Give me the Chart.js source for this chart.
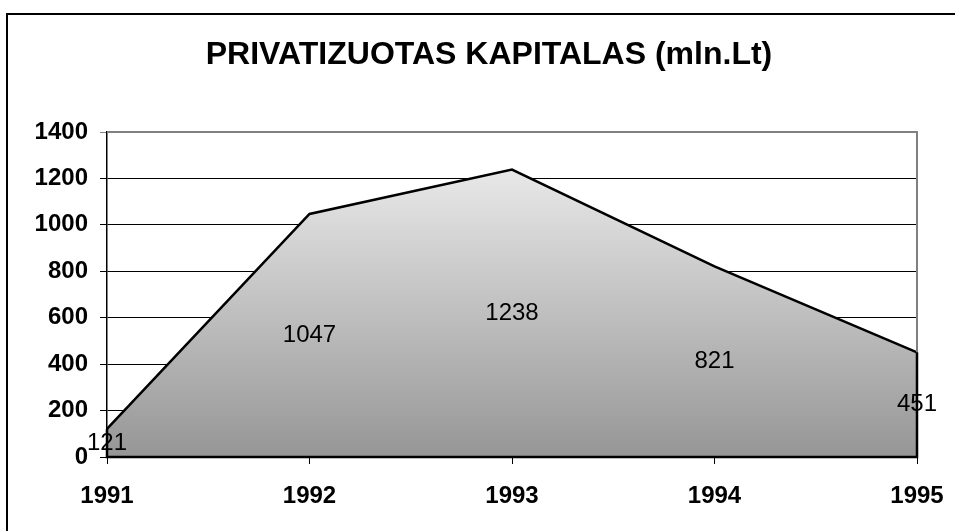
<!DOCTYPE html>
<html>
<head>
<meta charset="utf-8">
<script src="https://cdn.jsdelivr.net/npm/chart.js@4.4.1/dist/chart.umd.min.js"></script>
<style>
  html, body { margin: 0; padding: 0; background: #fff; }
  #wrap { width: 955px; height: 531px; position: relative; }
</style>
</head>
<body>
<div id="wrap"><canvas id="chart"></canvas></div>
<script>
// Données
const years = ['1991', '1992', '1993', '1994', '1995'];
const capital = [121, 1047, 1238, 821, 451];
const yTicks = [0, 200, 400, 600, 800, 1000, 1200, 1400];
const chartTitle = 'PRIVATIZUOTAS KAPITALAS (mln.Lt)';

const FONT = 'Arial, "Liberation Sans", sans-serif';

// Cadre extérieur, titre, bordure droite du graphique
const framePlugin = {
    id: 'frame',
    beforeDraw(chart) {
        const ctx = chart.ctx;
        ctx.save();
        ctx.strokeStyle = '#000';
        ctx.lineWidth = 2;
        ctx.strokeRect(7, 14, 960, 540);
        ctx.fillStyle = '#000';
        ctx.font = 'bold 32px ' + FONT;
        ctx.textAlign = 'center';
        ctx.textBaseline = 'middle';
        ctx.fillText(chartTitle, 489, 55);
        ctx.restore();
    },
    afterDatasetsDraw(chart) {
        const { ctx, chartArea } = chart;
        ctx.save();
        ctx.strokeStyle = '#808080';
        ctx.lineWidth = 2;
        ctx.beginPath();
        ctx.moveTo(chartArea.left, chartArea.top);
        ctx.lineTo(chartArea.right, chartArea.top);
        ctx.lineTo(chartArea.right, chartArea.bottom);
        ctx.stroke();

        // contour de la zone (bords verticaux + base)
        const meta = chart.getDatasetMeta(0);
        const y0 = chart.scales.y.getPixelForValue(0);
        const first = meta.data[0], last = meta.data[meta.data.length - 1];
        ctx.strokeStyle = '#000';
        ctx.lineWidth = 2.5;
        ctx.beginPath();
        ctx.moveTo(first.x, first.y);
        ctx.lineTo(first.x, y0);
        ctx.lineTo(last.x, y0);
        ctx.lineTo(last.x, last.y);
        ctx.stroke();

        // étiquettes au milieu de la zone
        ctx.fillStyle = '#000';
        ctx.font = '24px ' + FONT;
        ctx.textAlign = 'center';
        ctx.textBaseline = 'middle';
        meta.data.forEach((pt, i) => {
            const y = chart.scales.y.getPixelForValue(capital[i] / 2);
            ctx.fillText(String(capital[i]), pt.x, y);
        });
        ctx.restore();
    }
};

const ctx = document.getElementById('chart').getContext('2d');
new Chart(ctx, {
    type: 'line',
    data: {
        labels: years,
        datasets: [{
            data: capital,
            borderColor: '#000',
            borderWidth: 2.5,
            pointRadius: 0,
            tension: 0,
            fill: 'origin',
            backgroundColor: (context) => {
                const area = context.chart.chartArea;
                if (!area) return '#bbb';
                const yS = context.chart.scales.y;
                const g = context.chart.ctx.createLinearGradient(0, yS.getPixelForValue(Math.max(...capital)), 0, yS.getPixelForValue(0));
                g.addColorStop(0, '#e8e8e8');
                g.addColorStop(1, '#969696');
                return g;
            }
        }]
    },
    options: {
        responsive: true,
        maintainAspectRatio: false,
        animation: false,
        layout: { padding: { top: 132, right: 38, left: 0, bottom: 0 } },
        plugins: {
            legend: { display: false },
            title: { display: false },
            tooltip: { enabled: false }
        },
        scales: {
            x: {
                offset: false,
                afterFit(scale) {
                    scale.height = 74;
                    scale.paddingLeft = 0;
                    scale.paddingRight = 0;
                },
                grid: { drawOnChartArea: false, drawTicks: true, tickLength: 7, color: '#000' },
                border: { color: '#000', width: 2 },
                ticks: { color: '#000', font: { family: FONT, size: 24, weight: 'bold' }, padding: 18, maxRotation: 0 }
            },
            y: {
                min: 0,
                max: 1400,
                afterFit(scale) {
                    scale.width = 107;
                    scale.paddingTop = 0;
                    scale.paddingBottom = 0;
                },
                afterBuildTicks(scale) { scale.ticks = yTicks.map(v => ({ value: v })); },
                grid: {
                    color: (c) => (c.tick && c.tick.value === 1400) ? '#808080' : '#000',
                    lineWidth: 1,
                    tickLength: 7
                },
                border: { color: '#000', width: 1.5 },
                ticks: {
                    color: '#000',
                    font: { family: FONT, size: 24, weight: 'bold' },
                    padding: 12,
                    callback: (v) => String(v)
                }
            }
        }
    },
    plugins: [framePlugin]
});
</script>
</body>
</html>
